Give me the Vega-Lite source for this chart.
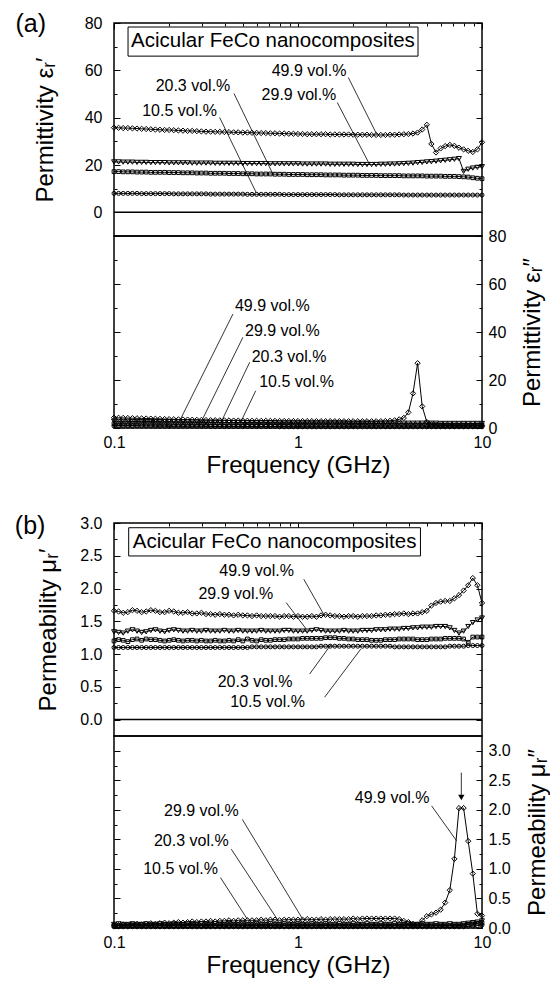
{
"$schema":"https://vega.github.io/schema/vega-lite/v6.json",
"background":"white",
"padding":{"left":14,"top":11,"right":0,"bottom":0},
"config":{"view":{"stroke":"black","strokeWidth":1.5},"font":"Liberation Sans",
"axis":{"domain":false,"grid":false,"ticks":true,"tickColor":"black","tickWidth":1,"labelFont":"Liberation Sans","labelFontSize":16,"labelColor":"black","labelFlush":false,"labelOverlap":false,"titleFont":"Liberation Sans","titleFontSize":24,"titleFontWeight":"normal","titleColor":"black"}},
"datasets":{
"main":[
{"f":0.1,"a1":35.8,"a2":21.3,"a3":17.2,"a4":8.0,"c1":4.3,"c2":2.8,"c3":1.8,"c4":0.8,"b1":1.66,"b2":1.34,"b3":1.20,"b4":1.10,"d1":0.05,"d2":0.06,"d3":0.04,"d4":0.02},
{"f":0.1059,"a1":35.7,"a2":21.3,"a3":17.2,"a4":8.0,"c1":4.25,"c2":2.8,"c3":1.8,"c4":0.8,"b1":1.65,"b2":1.33,"b3":1.22,"b4":1.10,"d1":0.05,"d2":0.07,"d3":0.04,"d4":0.02},
{"f":0.1122,"a1":35.6,"a2":21.2,"a3":17.1,"a4":8.0,"c1":4.2,"c2":2.8,"c3":1.8,"c4":0.8,"b1":1.63,"b2":1.32,"b3":1.21,"b4":1.10,"d1":0.06,"d2":0.06,"d3":0.04,"d4":0.02},
{"f":0.1189,"a1":35.6,"a2":21.2,"a3":17.1,"a4":8.0,"c1":4.15,"c2":2.8,"c3":1.8,"c4":0.8,"b1":1.64,"b2":1.35,"b3":1.19,"b4":1.10,"d1":0.05,"d2":0.06,"d3":0.04,"d4":0.02},
{"f":0.1259,"a1":35.5,"a2":21.2,"a3":17.1,"a4":8.0,"c1":4.1,"c2":2.7,"c3":1.8,"c4":0.8,"b1":1.67,"b2":1.37,"b3":1.22,"b4":1.10,"d1":0.06,"d2":0.07,"d3":0.04,"d4":0.02},
{"f":0.1334,"a1":35.4,"a2":21.1,"a3":17.0,"a4":8.0,"c1":4.05,"c2":2.7,"c3":1.8,"c4":0.8,"b1":1.66,"b2":1.35,"b3":1.23,"b4":1.10,"d1":0.07,"d2":0.06,"d3":0.04,"d4":0.02},
{"f":0.1413,"a1":35.3,"a2":21.1,"a3":17.0,"a4":7.9,"c1":4.0,"c2":2.7,"c3":1.7,"c4":0.8,"b1":1.64,"b2":1.33,"b3":1.21,"b4":1.10,"d1":0.06,"d2":0.06,"d3":0.04,"d4":0.02},
{"f":0.1496,"a1":35.2,"a2":21.1,"a3":17.0,"a4":7.9,"c1":3.95,"c2":2.7,"c3":1.7,"c4":0.8,"b1":1.65,"b2":1.34,"b3":1.23,"b4":1.10,"d1":0.07,"d2":0.07,"d3":0.04,"d4":0.02},
{"f":0.1585,"a1":35.1,"a2":21.0,"a3":16.9,"a4":7.9,"c1":3.9,"c2":2.7,"c3":1.7,"c4":0.8,"b1":1.67,"b2":1.36,"b3":1.22,"b4":1.10,"d1":0.08,"d2":0.06,"d3":0.04,"d4":0.02},
{"f":0.1679,"a1":35.0,"a2":21.0,"a3":16.9,"a4":7.9,"c1":3.85,"c2":2.6,"c3":1.7,"c4":0.7,"b1":1.66,"b2":1.37,"b3":1.22,"b4":1.10,"d1":0.07,"d2":0.06,"d3":0.04,"d4":0.02},
{"f":0.1778,"a1":34.9,"a2":21.0,"a3":16.9,"a4":7.9,"c1":3.8,"c2":2.6,"c3":1.7,"c4":0.7,"b1":1.64,"b2":1.35,"b3":1.21,"b4":1.10,"d1":0.08,"d2":0.07,"d3":0.04,"d4":0.02},
{"f":0.1884,"a1":34.8,"a2":21.0,"a3":16.9,"a4":7.9,"c1":3.75,"c2":2.6,"c3":1.7,"c4":0.7,"b1":1.64,"b2":1.34,"b3":1.20,"b4":1.10,"d1":0.09,"d2":0.06,"d3":0.04,"d4":0.02},
{"f":0.1995,"a1":34.8,"a2":20.9,"a3":16.8,"a4":7.9,"c1":3.7,"c2":2.6,"c3":1.7,"c4":0.7,"b1":1.66,"b2":1.36,"b3":1.21,"b4":1.10,"d1":0.08,"d2":0.06,"d3":0.04,"d4":0.02},
{"f":0.2113,"a1":34.7,"a2":20.9,"a3":16.8,"a4":7.8,"c1":3.65,"c2":2.6,"c3":1.6,"c4":0.7,"b1":1.65,"b2":1.37,"b3":1.22,"b4":1.10,"d1":0.09,"d2":0.07,"d3":0.04,"d4":0.02},
{"f":0.2239,"a1":34.6,"a2":20.9,"a3":16.8,"a4":7.8,"c1":3.6,"c2":2.5,"c3":1.6,"c4":0.7,"b1":1.63,"b2":1.36,"b3":1.21,"b4":1.10,"d1":0.10,"d2":0.06,"d3":0.04,"d4":0.02},
{"f":0.2371,"a1":34.5,"a2":20.9,"a3":16.7,"a4":7.8,"c1":3.55,"c2":2.5,"c3":1.6,"c4":0.7,"b1":1.63,"b2":1.35,"b3":1.20,"b4":1.10,"d1":0.09,"d2":0.06,"d3":0.04,"d4":0.02},
{"f":0.2512,"a1":34.4,"a2":20.9,"a3":16.7,"a4":7.8,"c1":3.5,"c2":2.5,"c3":1.6,"c4":0.7,"b1":1.64,"b2":1.35,"b3":1.21,"b4":1.10,"d1":0.10,"d2":0.07,"d3":0.04,"d4":0.02},
{"f":0.2661,"a1":34.4,"a2":20.8,"a3":16.7,"a4":7.8,"c1":3.45,"c2":2.5,"c3":1.6,"c4":0.7,"b1":1.62,"b2":1.36,"b3":1.21,"b4":1.10,"d1":0.11,"d2":0.06,"d3":0.04,"d4":0.02},
{"f":0.2818,"a1":34.3,"a2":20.8,"a3":16.6,"a4":7.8,"c1":3.4,"c2":2.5,"c3":1.6,"c4":0.7,"b1":1.62,"b2":1.35,"b3":1.20,"b4":1.10,"d1":0.10,"d2":0.06,"d3":0.04,"d4":0.02},
{"f":0.2985,"a1":34.2,"a2":20.8,"a3":16.6,"a4":7.8,"c1":3.35,"c2":2.4,"c3":1.6,"c4":0.7,"b1":1.63,"b2":1.35,"b3":1.21,"b4":1.10,"d1":0.11,"d2":0.07,"d3":0.04,"d4":0.02},
{"f":0.3162,"a1":34.1,"a2":20.8,"a3":16.6,"a4":7.8,"c1":3.3,"c2":2.4,"c3":1.6,"c4":0.7,"b1":1.61,"b2":1.36,"b3":1.20,"b4":1.10,"d1":0.11,"d2":0.06,"d3":0.04,"d4":0.02},
{"f":0.335,"a1":34.1,"a2":20.8,"a3":16.5,"a4":7.7,"c1":3.27,"c2":2.4,"c3":1.5,"c4":0.6,"b1":1.61,"b2":1.35,"b3":1.20,"b4":1.10,"d1":0.12,"d2":0.06,"d3":0.04,"d4":0.02},
{"f":0.3548,"a1":34.0,"a2":20.7,"a3":16.5,"a4":7.7,"c1":3.24,"c2":2.4,"c3":1.5,"c4":0.6,"b1":1.60,"b2":1.35,"b3":1.21,"b4":1.10,"d1":0.11,"d2":0.07,"d3":0.04,"d4":0.02},
{"f":0.3758,"a1":34.0,"a2":20.7,"a3":16.5,"a4":7.7,"c1":3.2,"c2":2.4,"c3":1.5,"c4":0.6,"b1":1.61,"b2":1.35,"b3":1.20,"b4":1.10,"d1":0.12,"d2":0.06,"d3":0.04,"d4":0.02},
{"f":0.3981,"a1":33.9,"a2":20.7,"a3":16.5,"a4":7.7,"c1":3.17,"c2":2.3,"c3":1.5,"c4":0.6,"b1":1.60,"b2":1.36,"b3":1.20,"b4":1.10,"d1":0.12,"d2":0.06,"d3":0.04,"d4":0.02},
{"f":0.4217,"a1":33.9,"a2":20.7,"a3":16.4,"a4":7.7,"c1":3.14,"c2":2.3,"c3":1.5,"c4":0.6,"b1":1.60,"b2":1.35,"b3":1.21,"b4":1.10,"d1":0.13,"d2":0.07,"d3":0.04,"d4":0.02},
{"f":0.4467,"a1":33.8,"a2":20.7,"a3":16.4,"a4":7.7,"c1":3.1,"c2":2.3,"c3":1.5,"c4":0.6,"b1":1.59,"b2":1.35,"b3":1.20,"b4":1.10,"d1":0.12,"d2":0.06,"d3":0.04,"d4":0.02},
{"f":0.4732,"a1":33.8,"a2":20.7,"a3":16.4,"a4":7.7,"c1":3.07,"c2":2.3,"c3":1.5,"c4":0.6,"b1":1.60,"b2":1.36,"b3":1.22,"b4":1.10,"d1":0.13,"d2":0.06,"d3":0.04,"d4":0.02},
{"f":0.5012,"a1":33.7,"a2":20.6,"a3":16.3,"a4":7.7,"c1":3.04,"c2":2.3,"c3":1.5,"c4":0.6,"b1":1.59,"b2":1.35,"b3":1.20,"b4":1.10,"d1":0.13,"d2":0.07,"d3":0.04,"d4":0.02},
{"f":0.5309,"a1":33.7,"a2":20.6,"a3":16.3,"a4":7.6,"c1":3.02,"c2":2.2,"c3":1.4,"c4":0.6,"b1":1.59,"b2":1.35,"b3":1.23,"b4":1.10,"d1":0.13,"d2":0.06,"d3":0.04,"d4":0.02},
{"f":0.5623,"a1":33.6,"a2":20.6,"a3":16.3,"a4":7.6,"c1":3.0,"c2":2.2,"c3":1.4,"c4":0.6,"b1":1.58,"b2":1.35,"b3":1.21,"b4":1.11,"d1":0.13,"d2":0.06,"d3":0.04,"d4":0.02},
{"f":0.5957,"a1":33.6,"a2":20.6,"a3":16.2,"a4":7.6,"c1":2.99,"c2":2.2,"c3":1.4,"c4":0.6,"b1":1.59,"b2":1.35,"b3":1.20,"b4":1.11,"d1":0.13,"d2":0.07,"d3":0.04,"d4":0.02},
{"f":0.631,"a1":33.5,"a2":20.6,"a3":16.2,"a4":7.6,"c1":2.98,"c2":2.2,"c3":1.4,"c4":0.6,"b1":1.58,"b2":1.36,"b3":1.22,"b4":1.11,"d1":0.14,"d2":0.06,"d3":0.04,"d4":0.02},
{"f":0.6683,"a1":33.5,"a2":20.6,"a3":16.2,"a4":7.6,"c1":2.97,"c2":2.2,"c3":1.4,"c4":0.6,"b1":1.58,"b2":1.35,"b3":1.21,"b4":1.11,"d1":0.13,"d2":0.06,"d3":0.04,"d4":0.02},
{"f":0.7079,"a1":33.4,"a2":20.5,"a3":16.2,"a4":7.6,"c1":2.96,"c2":2.2,"c3":1.4,"c4":0.6,"b1":1.58,"b2":1.35,"b3":1.21,"b4":1.11,"d1":0.14,"d2":0.07,"d3":0.04,"d4":0.02},
{"f":0.7499,"a1":33.4,"a2":20.5,"a3":16.1,"a4":7.6,"c1":2.95,"c2":2.2,"c3":1.4,"c4":0.6,"b1":1.58,"b2":1.35,"b3":1.22,"b4":1.11,"d1":0.14,"d2":0.06,"d3":0.04,"d4":0.02},
{"f":0.7943,"a1":33.3,"a2":20.5,"a3":16.1,"a4":7.6,"c1":2.94,"c2":2.1,"c3":1.4,"c4":0.5,"b1":1.57,"b2":1.35,"b3":1.22,"b4":1.11,"d1":0.13,"d2":0.06,"d3":0.04,"d4":0.02},
{"f":0.8414,"a1":33.3,"a2":20.5,"a3":16.1,"a4":7.5,"c1":2.93,"c2":2.1,"c3":1.4,"c4":0.5,"b1":1.58,"b2":1.36,"b3":1.22,"b4":1.11,"d1":0.14,"d2":0.07,"d3":0.04,"d4":0.02},
{"f":0.8913,"a1":33.2,"a2":20.5,"a3":16.0,"a4":7.5,"c1":2.92,"c2":2.1,"c3":1.4,"c4":0.5,"b1":1.58,"b2":1.36,"b3":1.23,"b4":1.11,"d1":0.14,"d2":0.06,"d3":0.04,"d4":0.02},
{"f":0.9441,"a1":33.2,"a2":20.5,"a3":16.0,"a4":7.5,"c1":2.91,"c2":2.1,"c3":1.3,"c4":0.5,"b1":1.57,"b2":1.35,"b3":1.23,"b4":1.11,"d1":0.14,"d2":0.06,"d3":0.04,"d4":0.02},
{"f":1,"a1":33.1,"a2":20.5,"a3":16.0,"a4":7.5,"c1":2.9,"c2":2.1,"c3":1.3,"c4":0.5,"b1":1.58,"b2":1.35,"b3":1.23,"b4":1.11,"d1":0.14,"d2":0.07,"d3":0.04,"d4":0.02},
{"f":1.059,"a1":33.1,"a2":20.4,"a3":16.0,"a4":7.5,"c1":2.89,"c2":2.1,"c3":1.3,"c4":0.5,"b1":1.57,"b2":1.35,"b3":1.24,"b4":1.11,"d1":0.14,"d2":0.06,"d3":0.04,"d4":0.02},
{"f":1.122,"a1":33.0,"a2":20.4,"a3":15.9,"a4":7.5,"c1":2.88,"c2":2.1,"c3":1.3,"c4":0.5,"b1":1.57,"b2":1.35,"b3":1.24,"b4":1.11,"d1":0.15,"d2":0.06,"d3":0.04,"d4":0.02},
{"f":1.189,"a1":33.0,"a2":20.4,"a3":15.9,"a4":7.5,"c1":2.88,"c2":2.1,"c3":1.3,"c4":0.5,"b1":1.58,"b2":1.36,"b3":1.24,"b4":1.11,"d1":0.14,"d2":0.07,"d3":0.04,"d4":0.02},
{"f":1.259,"a1":33.0,"a2":20.4,"a3":15.9,"a4":7.5,"c1":2.87,"c2":2.1,"c3":1.3,"c4":0.5,"b1":1.57,"b2":1.37,"b3":1.24,"b4":1.11,"d1":0.14,"d2":0.06,"d3":0.04,"d4":0.02},
{"f":1.334,"a1":33.0,"a2":20.4,"a3":15.9,"a4":7.5,"c1":2.86,"c2":2.1,"c3":1.3,"c4":0.5,"b1":1.59,"b2":1.36,"b3":1.24,"b4":1.12,"d1":0.15,"d2":0.06,"d3":0.04,"d4":0.02},
{"f":1.413,"a1":33.0,"a2":20.4,"a3":15.8,"a4":7.5,"c1":2.85,"c2":2.1,"c3":1.3,"c4":0.5,"b1":1.60,"b2":1.35,"b3":1.25,"b4":1.12,"d1":0.14,"d2":0.07,"d3":0.04,"d4":0.02},
{"f":1.496,"a1":32.9,"a2":20.3,"a3":15.8,"a4":7.5,"c1":2.85,"c2":2.1,"c3":1.3,"c4":0.5,"b1":1.59,"b2":1.35,"b3":1.25,"b4":1.12,"d1":0.15,"d2":0.06,"d3":0.04,"d4":0.02},
{"f":1.585,"a1":32.9,"a2":20.3,"a3":15.8,"a4":7.5,"c1":2.84,"c2":2.1,"c3":1.3,"c4":0.5,"b1":1.58,"b2":1.35,"b3":1.25,"b4":1.12,"d1":0.15,"d2":0.06,"d3":0.04,"d4":0.02},
{"f":1.679,"a1":32.9,"a2":20.3,"a3":15.8,"a4":7.4,"c1":2.84,"c2":2.1,"c3":1.3,"c4":0.5,"b1":1.58,"b2":1.35,"b3":1.24,"b4":1.12,"d1":0.15,"d2":0.07,"d3":0.04,"d4":0.02},
{"f":1.778,"a1":32.9,"a2":20.3,"a3":15.7,"a4":7.4,"c1":2.83,"c2":2.1,"c3":1.3,"c4":0.5,"b1":1.57,"b2":1.36,"b3":1.24,"b4":1.12,"d1":0.15,"d2":0.06,"d3":0.04,"d4":0.02},
{"f":1.884,"a1":32.9,"a2":20.3,"a3":15.7,"a4":7.4,"c1":2.83,"c2":2.0,"c3":1.3,"c4":0.5,"b1":1.58,"b2":1.35,"b3":1.23,"b4":1.12,"d1":0.15,"d2":0.06,"d3":0.04,"d4":0.02},
{"f":1.995,"a1":32.8,"a2":20.3,"a3":15.7,"a4":7.4,"c1":2.82,"c2":2.0,"c3":1.3,"c4":0.5,"b1":1.58,"b2":1.35,"b3":1.23,"b4":1.12,"d1":0.16,"d2":0.07,"d3":0.04,"d4":0.02},
{"f":2.113,"a1":32.8,"a2":20.2,"a3":15.7,"a4":7.4,"c1":2.82,"c2":2.0,"c3":1.3,"c4":0.5,"b1":1.57,"b2":1.35,"b3":1.22,"b4":1.12,"d1":0.15,"d2":0.06,"d3":0.04,"d4":0.02},
{"f":2.239,"a1":32.8,"a2":20.2,"a3":15.6,"a4":7.4,"c1":2.82,"c2":2.0,"c3":1.3,"c4":0.5,"b1":1.58,"b2":1.36,"b3":1.22,"b4":1.12,"d1":0.16,"d2":0.06,"d3":0.04,"d4":0.02},
{"f":2.371,"a1":32.8,"a2":20.2,"a3":15.6,"a4":7.4,"c1":2.81,"c2":2.0,"c3":1.3,"c4":0.5,"b1":1.58,"b2":1.36,"b3":1.22,"b4":1.12,"d1":0.16,"d2":0.07,"d3":0.04,"d4":0.02},
{"f":2.512,"a1":32.7,"a2":20.2,"a3":15.6,"a4":7.4,"c1":2.81,"c2":2.0,"c3":1.2,"c4":0.5,"b1":1.58,"b2":1.36,"b3":1.21,"b4":1.12,"d1":0.16,"d2":0.06,"d3":0.04,"d4":0.02},
{"f":2.661,"a1":32.7,"a2":20.2,"a3":15.6,"a4":7.4,"c1":2.81,"c2":2.0,"c3":1.2,"c4":0.5,"b1":1.59,"b2":1.37,"b3":1.21,"b4":1.12,"d1":0.16,"d2":0.06,"d3":0.04,"d4":0.02},
{"f":2.818,"a1":32.7,"a2":20.3,"a3":15.5,"a4":7.4,"c1":2.82,"c2":2.0,"c3":1.2,"c4":0.5,"b1":1.59,"b2":1.37,"b3":1.21,"b4":1.12,"d1":0.16,"d2":0.07,"d3":0.04,"d4":0.02},
{"f":2.985,"a1":32.7,"a2":20.3,"a3":15.5,"a4":7.4,"c1":2.9,"c2":2.0,"c3":1.2,"c4":0.5,"b1":1.60,"b2":1.37,"b3":1.22,"b4":1.12,"d1":0.16,"d2":0.06,"d3":0.04,"d4":0.02},
{"f":3.162,"a1":32.8,"a2":20.4,"a3":15.5,"a4":7.4,"c1":3.0,"c2":2.0,"c3":1.2,"c4":0.5,"b1":1.60,"b2":1.38,"b3":1.22,"b4":1.12,"d1":0.16,"d2":0.06,"d3":0.04,"d4":0.02},
{"f":3.35,"a1":32.8,"a2":20.4,"a3":15.5,"a4":7.4,"c1":3.2,"c2":2.0,"c3":1.2,"c4":0.5,"b1":1.61,"b2":1.38,"b3":1.22,"b4":1.11,"d1":0.16,"d2":0.07,"d3":0.04,"d4":0.02},
{"f":3.548,"a1":32.9,"a2":20.5,"a3":15.5,"a4":7.4,"c1":3.6,"c2":2.0,"c3":1.2,"c4":0.5,"b1":1.61,"b2":1.38,"b3":1.23,"b4":1.11,"d1":0.15,"d2":0.06,"d3":0.04,"d4":0.02},
{"f":3.758,"a1":33.0,"a2":20.6,"a3":15.4,"a4":7.3,"c1":4.2,"c2":2.0,"c3":1.2,"c4":0.5,"b1":1.62,"b2":1.39,"b3":1.23,"b4":1.11,"d1":0.12,"d2":0.06,"d3":0.04,"d4":0.02},
{"f":3.981,"a1":33.1,"a2":20.7,"a3":15.4,"a4":7.3,"c1":6.5,"c2":2.0,"c3":1.2,"c4":0.5,"b1":1.61,"b2":1.39,"b3":1.23,"b4":1.11,"d1":0.10,"d2":0.07,"d3":0.04,"d4":0.02},
{"f":4.217,"a1":33.3,"a2":20.8,"a3":15.4,"a4":7.3,"c1":14.4,"c2":2.0,"c3":1.2,"c4":0.5,"b1":1.62,"b2":1.40,"b3":1.23,"b4":1.11,"d1":0.07,"d2":0.06,"d3":0.04,"d4":0.02},
{"f":4.467,"a1":33.7,"a2":21.0,"a3":15.4,"a4":7.3,"c1":27.0,"c2":2.0,"c3":1.2,"c4":0.5,"b1":1.62,"b2":1.40,"b3":1.22,"b4":1.11,"d1":0.06,"d2":0.06,"d3":0.04,"d4":0.02},
{"f":4.732,"a1":35.0,"a2":21.1,"a3":15.4,"a4":7.3,"c1":9.0,"c2":2.0,"c3":1.2,"c4":0.5,"b1":1.64,"b2":1.41,"b3":1.22,"b4":1.11,"d1":0.13,"d2":0.07,"d3":0.04,"d4":0.02},
{"f":5.012,"a1":37.0,"a2":21.3,"a3":15.3,"a4":7.3,"c1":2.5,"c2":2.0,"c3":1.2,"c4":0.5,"b1":1.66,"b2":1.41,"b3":1.22,"b4":1.11,"d1":0.20,"d2":0.06,"d3":0.04,"d4":0.02},
{"f":5.309,"a1":28.9,"a2":21.4,"a3":15.3,"a4":7.3,"c1":1.5,"c2":2.0,"c3":1.2,"c4":0.5,"b1":1.74,"b2":1.41,"b3":1.23,"b4":1.11,"d1":0.23,"d2":0.06,"d3":0.04,"d4":0.02},
{"f":5.623,"a1":25.3,"a2":21.6,"a3":15.3,"a4":7.3,"c1":1.2,"c2":2.0,"c3":1.2,"c4":0.5,"b1":1.78,"b2":1.42,"b3":1.23,"b4":1.11,"d1":0.26,"d2":0.07,"d3":0.04,"d4":0.02},
{"f":5.957,"a1":27.0,"a2":21.8,"a3":15.3,"a4":7.3,"c1":1.1,"c2":1.9,"c3":1.2,"c4":0.5,"b1":1.80,"b2":1.42,"b3":1.23,"b4":1.11,"d1":0.31,"d2":0.06,"d3":0.04,"d4":0.02},
{"f":6.31,"a1":28.0,"a2":22.0,"a3":15.2,"a4":7.3,"c1":1.0,"c2":1.9,"c3":1.2,"c4":0.5,"b1":1.81,"b2":1.42,"b3":1.24,"b4":1.11,"d1":0.43,"d2":0.06,"d3":0.04,"d4":0.02},
{"f":6.683,"a1":28.5,"a2":22.2,"a3":15.2,"a4":7.3,"c1":1.0,"c2":1.9,"c3":1.2,"c4":0.5,"b1":1.81,"b2":1.40,"b3":1.24,"b4":1.12,"d1":0.64,"d2":0.07,"d3":0.04,"d4":0.02},
{"f":7.079,"a1":28.1,"a2":22.4,"a3":15.2,"a4":7.3,"c1":0.9,"c2":1.9,"c3":1.2,"c4":0.5,"b1":1.85,"b2":1.36,"b3":1.24,"b4":1.12,"d1":1.17,"d2":0.06,"d3":0.04,"d4":0.02},
{"f":7.499,"a1":27.3,"a2":22.7,"a3":15.1,"a4":7.3,"c1":0.9,"c2":1.9,"c3":1.2,"c4":0.5,"b1":1.90,"b2":1.32,"b3":1.24,"b4":1.12,"d1":2.03,"d2":0.06,"d3":0.04,"d4":0.02},
{"f":7.943,"a1":26.6,"a2":17.3,"a3":15.0,"a4":7.3,"c1":0.9,"c2":1.9,"c3":1.2,"c4":0.5,"b1":1.97,"b2":1.35,"b3":1.23,"b4":1.12,"d1":2.03,"d2":0.07,"d3":0.05,"d4":0.02},
{"f":8.414,"a1":26.0,"a2":18.2,"a3":14.9,"a4":7.3,"c1":0.9,"c2":1.9,"c3":1.2,"c4":0.5,"b1":2.05,"b2":1.42,"b3":1.18,"b4":1.13,"d1":1.47,"d2":0.08,"d3":0.06,"d4":0.03},
{"f":8.913,"a1":25.5,"a2":18.7,"a3":14.6,"a4":7.3,"c1":0.9,"c2":1.9,"c3":1.2,"c4":0.5,"b1":2.16,"b2":1.48,"b3":1.26,"b4":1.13,"d1":0.92,"d2":0.09,"d3":0.07,"d4":0.03},
{"f":9.441,"a1":26.6,"a2":19.0,"a3":14.4,"a4":7.3,"c1":1.0,"c2":1.9,"c3":1.2,"c4":0.5,"b1":2.05,"b2":1.52,"b3":1.26,"b4":1.13,"d1":0.24,"d2":0.10,"d3":0.08,"d4":0.04},
{"f":10,"a1":29.6,"a2":19.3,"a3":14.2,"a4":7.3,"c1":1.0,"c2":1.9,"c3":1.2,"c4":0.5,"b1":1.78,"b2":1.55,"b3":1.26,"b4":1.13,"d1":0.21,"d2":0.12,"d3":0.09,"d4":0.05}
],
"ann":[
{"p":"A","t":"49.9 vol.%","x":1.148,"y":59.7},
{"p":"A","t":"29.9 vol.%","x":1.012,"y":49.5},
{"p":"A","t":"20.3 vol.%","x":0.2687,"y":53.2},
{"p":"A","t":"10.5 vol.%","x":0.227,"y":42.9},
{"p":"C","t":"49.9 vol.%","x":0.725,"y":51},
{"p":"C","t":"29.9 vol.%","x":0.822,"y":40.5},
{"p":"C","t":"20.3 vol.%","x":0.894,"y":29.7},
{"p":"C","t":"10.5 vol.%","x":0.982,"y":19.0},
{"p":"B","t":"49.9 vol.%","x":0.596,"y":2.27},
{"p":"B","t":"29.9 vol.%","x":0.459,"y":1.914},
{"p":"B","t":"20.3 vol.%","x":0.584,"y":0.568},
{"p":"B","t":"10.5 vol.%","x":0.683,"y":0.263},
{"p":"D","t":"49.9 vol.%","x":3.25,"y":2.208},
{"p":"D","t":"29.9 vol.%","x":0.2985,"y":1.983},
{"p":"D","t":"20.3 vol.%","x":0.263,"y":1.475},
{"p":"D","t":"10.5 vol.%","x":0.23,"y":0.994}
],
"lines":[
{"p":"A","x1":1.876,"y1":57.0,"x2":2.678,"y2":33.0},
{"p":"A","x1":1.635,"y1":46.4,"x2":2.41,"y2":21.3},
{"p":"A","x1":0.449,"y1":50.2,"x2":0.731,"y2":16.1},
{"p":"A","x1":0.375,"y1":40.1,"x2":0.593,"y2":8.3},
{"p":"C","x1":0.443,"y1":47.5,"x2":0.2275,"y2":3.0},
{"p":"C","x1":0.502,"y1":37.8,"x2":0.298,"y2":2.6},
{"p":"C","x1":0.5464,"y1":27.4,"x2":0.383,"y2":2.6},
{"p":"C","x1":0.589,"y1":15.5,"x2":0.492,"y2":3.0},
{"p":"B","x1":1.075,"y1":2.143,"x2":1.394,"y2":1.584},
{"p":"B","x1":0.862,"y1":1.786,"x2":1.109,"y2":1.381},
{"p":"B","x1":1.157,"y1":0.696,"x2":1.518,"y2":1.153},
{"p":"B","x1":1.394,"y1":0.34,"x2":2.194,"y2":1.077},
{"p":"D","x1":0.498,"y1":1.838,"x2":1.062,"y2":0.147},
{"p":"D","x1":0.434,"y1":1.334,"x2":0.776,"y2":0.136},
{"p":"D","x1":0.379,"y1":0.853,"x2":0.531,"y2":0.147},
{"p":"D","x1":5.32,"y1":2.068,"x2":7.28,"y2":1.475},
{"p":"D","x1":7.72,"y1":2.63,"x2":7.72,"y2":2.22}
],
"boxes":[
{"p":"A","t":"Acicular FeCo nanocomposites","x1":0.1192,"x2":4.49,"y1":66.0,"y2":78.3,"xt":0.731,"yt":72.2},
{"p":"B","t":"Acicular FeCo nanocomposites","x1":0.1202,"x2":4.63,"y1":2.497,"y2":2.928,"xt":0.746,"yt":2.71}
],
"tags":[
{"p":"A","t":"(a)","x":0.0353,"y":79.6},
{"p":"B","t":"(b)","x":0.035,"y":2.954}
],
"heads":[
{"p":"D","x":7.72,"y":2.21}
]
},
"spacing":35,
"resolve":{"scale":{"x":"independent","y":"independent","shape":"independent","size":"independent"},"axis":{"x":"independent","y":"independent"}},
"vconcat":[
{
"spacing":0,"bounds":"flush",
"resolve":{"scale":{"x":"independent","y":"independent","shape":"independent","size":"independent"},"axis":{"x":"independent","y":"independent"}},
"vconcat":[
{
"width":368,"height":213,
"resolve":{"axis":{"x":"independent","y":"independent"}},
"layer":[
{"data":{"name":"main"},"transform":[{"fold":["a1","a2","a3","a4"],"as":["s","v"]}],
"mark":{"type":"line","color":"black","strokeWidth":1},
"encoding":{
"x":{"field":"f","type":"quantitative","scale":{"type":"log","domain":[0.1,10],"nice":false},"axis":{"orient":"top","values":[0.1,1,10],"labels":false,"tickSize":-6,"title":null}},
"y":{"field":"v","type":"quantitative","scale":{"domain":[-10,80],"nice":false,"zero":false},"axis":{"orient":"left","values":[0,20,40,60,80],"tickSize":-6,"labelPadding":18,"title":"Permittivity εᵣ′","titlePadding":27}},
"detail":{"field":"s"}}},
{"data":{"name":"main"},"transform":[{"fold":["a1","a2","a3","a4"],"as":["s","v"]}],
"mark":{"type":"point","filled":false,"color":"black","strokeWidth":1,"opacity":1},
"encoding":{
"x":{"field":"f","type":"quantitative","scale":{"type":"log","domain":[0.1,10],"nice":false},"axis":{"orient":"top","values":[0.2,0.3,0.4,0.5,0.6,0.7,0.8,0.9,2,3,4,5,6,7,8,9],"labels":false,"tickSize":-3,"title":null}},
"y":{"field":"v","type":"quantitative","scale":{"domain":[-10,80],"nice":false,"zero":false},"axis":{"orient":"left","values":[10,30,50,70],"labels":false,"tickSize":-3,"title":null}},
"shape":{"field":"s","type":"nominal","scale":{"domain":["a1","a2","a3","a4"],"range":["diamond","triangle-down","square","circle"]},"legend":null},
"size":{"field":"s","type":"nominal","scale":{"type":"ordinal","domain":["a1","a2","a3","a4"],"range":[28,24,14,16]},"legend":null}}},
{"data":{"name":"lines"},"transform":[{"filter":"datum.p=='A'"}],
"mark":{"type":"rule","color":"black","strokeWidth":0.8},
"encoding":{
"x":{"field":"x1","type":"quantitative","scale":{"type":"log","domain":[0.1,10],"nice":false},"axis":null},
"x2":{"field":"x2"},
"y":{"field":"y1","type":"quantitative","scale":{"domain":[-10,80],"nice":false,"zero":false},"axis":{"orient":"right","values":[10,30,50,70],"labels":false,"tickSize":-3,"title":null}},
"y2":{"field":"y2"}}},
{"data":{"name":"ann"},"transform":[{"filter":"datum.p=='A'"}],
"mark":{"type":"text","fontSize":16,"font":"Liberation Sans","color":"black"},
"encoding":{
"x":{"field":"x","type":"quantitative","scale":{"type":"log","domain":[0.1,10],"nice":false},"axis":null},
"y":{"field":"y","type":"quantitative","scale":{"domain":[-10,80],"nice":false,"zero":false},"axis":{"orient":"right","values":[0,20,40,60,80],"labels":false,"tickSize":-6,"title":null}},
"text":{"field":"t"}}},
{"data":{"name":"boxes"},"transform":[{"filter":"datum.p=='A'"}],
"mark":{"type":"rule","color":"black","strokeWidth":1.5},
"encoding":{"y":{"datum":0,"type":"quantitative","scale":{"domain":[-10,80],"nice":false,"zero":false},"axis":null}}},
{"data":{"name":"boxes"},"transform":[{"filter":"datum.p=='A'"}],
"mark":{"type":"rect","fill":"white","stroke":"black","strokeWidth":1},
"encoding":{
"x":{"field":"x1","type":"quantitative","scale":{"type":"log","domain":[0.1,10],"nice":false},"axis":null},
"x2":{"field":"x2"},
"y":{"field":"y1","type":"quantitative","scale":{"domain":[-10,80],"nice":false,"zero":false},"axis":null},
"y2":{"field":"y2"}}},
{"data":{"name":"boxes"},"transform":[{"filter":"datum.p=='A'"}],
"mark":{"type":"text","fontSize":20.5,"font":"Liberation Sans","color":"black"},
"encoding":{
"x":{"field":"xt","type":"quantitative","scale":{"type":"log","domain":[0.1,10],"nice":false},"axis":null},
"y":{"field":"yt","type":"quantitative","scale":{"domain":[-10,80],"nice":false,"zero":false},"axis":null},
"text":{"field":"t"}}},
{"data":{"name":"tags"},"transform":[{"filter":"datum.p=='A'"}],
"mark":{"type":"text","fontSize":25,"font":"Liberation Sans","color":"black"},
"encoding":{
"x":{"field":"x","type":"quantitative","scale":{"type":"log","domain":[0.1,10],"nice":false},"axis":null},
"y":{"field":"y","type":"quantitative","scale":{"domain":[-10,80],"nice":false,"zero":false},"axis":null},
"text":{"field":"t"}}}
]
},
{
"width":368,"height":192,
"resolve":{"axis":{"x":"independent","y":"independent"}},
"layer":[
{"data":{"name":"main"},"transform":[{"fold":["c1","c2","c3","c4"],"as":["s","v"]}],
"mark":{"type":"line","color":"black","strokeWidth":1},
"encoding":{
"x":{"field":"f","type":"quantitative","scale":{"type":"log","domain":[0.1,10],"nice":false},"axis":{"orient":"bottom","values":[0.1,1,10],"format":"~g","tickSize":-6,"labelPadding":12,"title":"Frequency (GHz)","titlePadding":3}},
"y":{"field":"v","type":"quantitative","scale":{"domain":[0,80],"nice":false,"zero":false},"axis":{"orient":"right","values":[0,20,40,60,80],"tickSize":-6,"labelPadding":12,"title":"Permittivity εᵣ″","titleAngle":270,"titleBaseline":"top","titlePadding":15}},
"detail":{"field":"s"}}},
{"data":{"name":"main"},"transform":[{"fold":["c1","c2","c3","c4"],"as":["s","v"]}],
"mark":{"type":"point","filled":false,"color":"black","strokeWidth":1,"opacity":1},
"encoding":{
"x":{"field":"f","type":"quantitative","scale":{"type":"log","domain":[0.1,10],"nice":false},"axis":{"orient":"bottom","values":[0.2,0.3,0.4,0.5,0.6,0.7,0.8,0.9,2,3,4,5,6,7,8,9],"labels":false,"tickSize":-3,"title":null}},
"y":{"field":"v","type":"quantitative","scale":{"domain":[0,80],"nice":false,"zero":false},"axis":{"orient":"right","values":[10,30,50,70],"labels":false,"tickSize":-3,"title":null}},
"shape":{"field":"s","type":"nominal","scale":{"domain":["c1","c2","c3","c4"],"range":["diamond","triangle-down","square","circle"]},"legend":null},
"size":{"field":"s","type":"nominal","scale":{"type":"ordinal","domain":["c1","c2","c3","c4"],"range":[28,24,14,16]},"legend":null}}},
{"data":{"name":"lines"},"transform":[{"filter":"datum.p=='C'"}],
"mark":{"type":"rule","color":"black","strokeWidth":0.8},
"encoding":{
"x":{"field":"x1","type":"quantitative","scale":{"type":"log","domain":[0.1,10],"nice":false},"axis":null},
"x2":{"field":"x2"},
"y":{"field":"y1","type":"quantitative","scale":{"domain":[0,80],"nice":false,"zero":false},"axis":{"orient":"left","values":[10,30,50,70],"labels":false,"tickSize":-3,"title":null}},
"y2":{"field":"y2"}}},
{"data":{"name":"ann"},"transform":[{"filter":"datum.p=='C'"}],
"mark":{"type":"text","fontSize":16,"font":"Liberation Sans","color":"black"},
"encoding":{
"x":{"field":"x","type":"quantitative","scale":{"type":"log","domain":[0.1,10],"nice":false},"axis":null},
"y":{"field":"y","type":"quantitative","scale":{"domain":[0,80],"nice":false,"zero":false},"axis":{"orient":"left","values":[0,20,40,60,80],"labels":false,"tickSize":-6,"title":null}},
"text":{"field":"t"}}}
]
}
]
},
{
"spacing":0,"bounds":"flush",
"resolve":{"scale":{"x":"independent","y":"independent","shape":"independent","size":"independent"},"axis":{"x":"independent","y":"independent"}},
"vconcat":[
{
"width":368,"height":213,
"resolve":{"axis":{"x":"independent","y":"independent"}},
"layer":[
{"data":{"name":"main"},"transform":[{"fold":["b1","b2","b3","b4"],"as":["s","v"]}],
"mark":{"type":"line","color":"black","strokeWidth":1},
"encoding":{
"x":{"field":"f","type":"quantitative","scale":{"type":"log","domain":[0.1,10],"nice":false},"axis":{"orient":"top","values":[0.1,1,10],"labels":false,"tickSize":-6,"title":null}},
"y":{"field":"v","type":"quantitative","scale":{"domain":[-0.25,3],"nice":false,"zero":false},"axis":{"orient":"left","values":[0,0.5,1,1.5,2,2.5,3],"format":".1f","tickSize":-6,"labelPadding":18,"title":"Permeability μᵣ′","titlePadding":19}},
"detail":{"field":"s"}}},
{"data":{"name":"main"},"transform":[{"fold":["b1","b2","b3","b4"],"as":["s","v"]}],
"mark":{"type":"point","filled":false,"color":"black","strokeWidth":1,"opacity":1},
"encoding":{
"x":{"field":"f","type":"quantitative","scale":{"type":"log","domain":[0.1,10],"nice":false},"axis":{"orient":"top","values":[0.2,0.3,0.4,0.5,0.6,0.7,0.8,0.9,2,3,4,5,6,7,8,9],"labels":false,"tickSize":-3,"title":null}},
"y":{"field":"v","type":"quantitative","scale":{"domain":[-0.25,3],"nice":false,"zero":false},"axis":{"orient":"left","values":[0.25,0.75,1.25,1.75,2.25,2.75],"labels":false,"tickSize":-3,"title":null}},
"shape":{"field":"s","type":"nominal","scale":{"domain":["b1","b2","b3","b4"],"range":["diamond","triangle-down","square","circle"]},"legend":null},
"size":{"field":"s","type":"nominal","scale":{"type":"ordinal","domain":["b1","b2","b3","b4"],"range":[28,24,14,16]},"legend":null}}},
{"data":{"name":"lines"},"transform":[{"filter":"datum.p=='B'"}],
"mark":{"type":"rule","color":"black","strokeWidth":0.8},
"encoding":{
"x":{"field":"x1","type":"quantitative","scale":{"type":"log","domain":[0.1,10],"nice":false},"axis":null},
"x2":{"field":"x2"},
"y":{"field":"y1","type":"quantitative","scale":{"domain":[-0.25,3],"nice":false,"zero":false},"axis":{"orient":"right","values":[0.25,0.75,1.25,1.75,2.25,2.75],"labels":false,"tickSize":-3,"title":null}},
"y2":{"field":"y2"}}},
{"data":{"name":"ann"},"transform":[{"filter":"datum.p=='B'"}],
"mark":{"type":"text","fontSize":16,"font":"Liberation Sans","color":"black"},
"encoding":{
"x":{"field":"x","type":"quantitative","scale":{"type":"log","domain":[0.1,10],"nice":false},"axis":null},
"y":{"field":"y","type":"quantitative","scale":{"domain":[-0.25,3],"nice":false,"zero":false},"axis":{"orient":"right","values":[0,0.5,1,1.5,2,2.5,3],"labels":false,"tickSize":-6,"title":null}},
"text":{"field":"t"}}},
{"data":{"name":"boxes"},"transform":[{"filter":"datum.p=='B'"}],
"mark":{"type":"rule","color":"black","strokeWidth":1.5},
"encoding":{"y":{"datum":0,"type":"quantitative","scale":{"domain":[-0.25,3],"nice":false,"zero":false},"axis":null}}},
{"data":{"name":"boxes"},"transform":[{"filter":"datum.p=='B'"}],
"mark":{"type":"rect","fill":"white","stroke":"black","strokeWidth":1},
"encoding":{
"x":{"field":"x1","type":"quantitative","scale":{"type":"log","domain":[0.1,10],"nice":false},"axis":null},
"x2":{"field":"x2"},
"y":{"field":"y1","type":"quantitative","scale":{"domain":[-0.25,3],"nice":false,"zero":false},"axis":null},
"y2":{"field":"y2"}}},
{"data":{"name":"boxes"},"transform":[{"filter":"datum.p=='B'"}],
"mark":{"type":"text","fontSize":20.5,"font":"Liberation Sans","color":"black"},
"encoding":{
"x":{"field":"xt","type":"quantitative","scale":{"type":"log","domain":[0.1,10],"nice":false},"axis":null},
"y":{"field":"yt","type":"quantitative","scale":{"domain":[-0.25,3],"nice":false,"zero":false},"axis":null},
"text":{"field":"t"}}},
{"data":{"name":"tags"},"transform":[{"filter":"datum.p=='B'"}],
"mark":{"type":"text","fontSize":25,"font":"Liberation Sans","color":"black"},
"encoding":{
"x":{"field":"x","type":"quantitative","scale":{"type":"log","domain":[0.1,10],"nice":false},"axis":null},
"y":{"field":"y","type":"quantitative","scale":{"domain":[-0.25,3],"nice":false,"zero":false},"axis":null},
"text":{"field":"t"}}}
]
},
{
"width":368,"height":192,
"resolve":{"axis":{"x":"independent","y":"independent"}},
"layer":[
{"data":{"name":"main"},"transform":[{"fold":["d1","d2","d3","d4"],"as":["s","v"]}],
"mark":{"type":"line","color":"black","strokeWidth":1},
"encoding":{
"x":{"field":"f","type":"quantitative","scale":{"type":"log","domain":[0.1,10],"nice":false},"axis":{"orient":"bottom","values":[0.1,1,10],"format":"~g","tickSize":-6,"labelPadding":12,"title":"Frequency (GHz)","titlePadding":3}},
"y":{"field":"v","type":"quantitative","scale":{"domain":[0,3.25],"nice":false,"zero":false},"axis":{"orient":"right","values":[0,0.5,1,1.5,2,2.5,3],"format":".1f","tickSize":-6,"labelPadding":12,"title":"Permeability μᵣ″","titleAngle":270,"titleBaseline":"top","titlePadding":15}},
"detail":{"field":"s"}}},
{"data":{"name":"main"},"transform":[{"fold":["d1","d2","d3","d4"],"as":["s","v"]}],
"mark":{"type":"point","filled":false,"color":"black","strokeWidth":1,"opacity":1},
"encoding":{
"x":{"field":"f","type":"quantitative","scale":{"type":"log","domain":[0.1,10],"nice":false},"axis":{"orient":"bottom","values":[0.2,0.3,0.4,0.5,0.6,0.7,0.8,0.9,2,3,4,5,6,7,8,9],"labels":false,"tickSize":-3,"title":null}},
"y":{"field":"v","type":"quantitative","scale":{"domain":[0,3.25],"nice":false,"zero":false},"axis":{"orient":"right","values":[0.25,0.75,1.25,1.75,2.25,2.75],"labels":false,"tickSize":-3,"title":null}},
"shape":{"field":"s","type":"nominal","scale":{"domain":["d1","d2","d3","d4"],"range":["diamond","triangle-down","square","circle"]},"legend":null},
"size":{"field":"s","type":"nominal","scale":{"type":"ordinal","domain":["d1","d2","d3","d4"],"range":[28,24,14,16]},"legend":null}}},
{"data":{"name":"lines"},"transform":[{"filter":"datum.p=='D'"}],
"mark":{"type":"rule","color":"black","strokeWidth":0.8},
"encoding":{
"x":{"field":"x1","type":"quantitative","scale":{"type":"log","domain":[0.1,10],"nice":false},"axis":null},
"x2":{"field":"x2"},
"y":{"field":"y1","type":"quantitative","scale":{"domain":[0,3.25],"nice":false,"zero":false},"axis":{"orient":"left","values":[0.25,0.75,1.25,1.75,2.25,2.75],"labels":false,"tickSize":-3,"title":null}},
"y2":{"field":"y2"}}},
{"data":{"name":"ann"},"transform":[{"filter":"datum.p=='D'"}],
"mark":{"type":"text","fontSize":16,"font":"Liberation Sans","color":"black"},
"encoding":{
"x":{"field":"x","type":"quantitative","scale":{"type":"log","domain":[0.1,10],"nice":false},"axis":null},
"y":{"field":"y","type":"quantitative","scale":{"domain":[0,3.25],"nice":false,"zero":false},"axis":{"orient":"left","values":[0,0.5,1,1.5,2,2.5,3],"labels":false,"tickSize":-6,"title":null}},
"text":{"field":"t"}}},
{"data":{"name":"heads"},
"mark":{"type":"point","shape":"triangle-down","filled":true,"color":"black","size":40,"opacity":1},
"encoding":{
"x":{"field":"x","type":"quantitative","scale":{"type":"log","domain":[0.1,10],"nice":false},"axis":null},
"y":{"field":"y","type":"quantitative","scale":{"domain":[0,3.25],"nice":false,"zero":false},"axis":null}}}
]
}
]
}
]
}
